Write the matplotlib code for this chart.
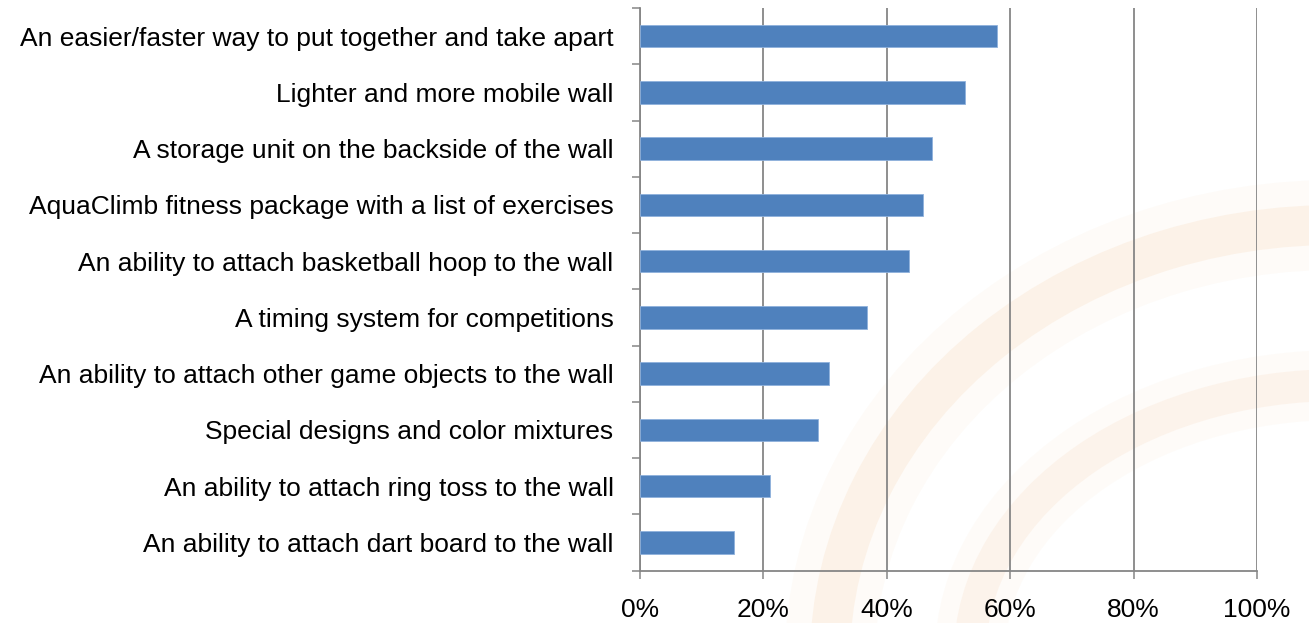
"""Horizontal bar chart: requested wall features (share of respondents)."""

import matplotlib

matplotlib.use("Agg")
import matplotlib.pyplot as plt
import numpy as np
from matplotlib.patches import Arc
from matplotlib.ticker import FixedLocator, PercentFormatter

plt.rcParams["font.family"] = ["Liberation Sans", "DejaVu Sans"]

# Categories listed top to bottom, as in the chart
features = [
    "An easier/faster way to put together and take apart",
    "Lighter and more mobile wall",
    "A storage unit on the backside of the wall",
    "AquaClimb fitness package with a list of exercises",
    "An ability to attach basketball hoop to the wall",
    "A timing system for competitions",
    "An ability to attach other game objects to the wall",
    "Special designs and color mixtures",
    "An ability to attach ring toss to the wall",
    "An ability to attach dart board to the wall",
]
shares = [0.579, 0.526, 0.474, 0.459, 0.436, 0.368, 0.307, 0.289, 0.210, 0.153]
x_ticks = [0.0, 0.2, 0.4, 0.6, 0.8, 1.0]

BAR_COLOR = "#4F81BD"
AXIS_GRAY = "#868686"
W, H = 1309, 623


def _watermark(fig):
    """Very faint orange arcs behind the chart, like the slide logo."""
    bg = fig.add_axes([0, 0, 1, 1], zorder=0)
    bg.set_xlim(0, W)
    bg.set_ylim(H, 0)
    bg.axis("off")
    bands = [
        ((1335, 660), 1010, 870, 40, 0.09),
        ((1335, 660), 1010, 870, 90, 0.04),
        ((1340, 655), 740, 540, 32, 0.08),
        ((1340, 655), 740, 540, 70, 0.035),
    ]
    for center, w, h, lw, alpha in bands:
        bg.add_patch(Arc(center, w, h, theta1=180, theta2=275,
                         color="#F0A050", lw=lw * 0.72, alpha=alpha))


fig = plt.figure(figsize=(W / 100, H / 100), dpi=100, facecolor="white")
_watermark(fig)

ax = fig.add_axes([640 / W, 1 - 570.5 / H, 617 / W, 562.5 / H], zorder=1)
ax.patch.set_alpha(0)

y = np.arange(len(features))
ax.barh(y, shares, height=0.4, color=BAR_COLOR, edgecolor="#8FB1DC",
        linewidth=0.6, zorder=3)

ax.set_ylim(len(features) - 0.5, -0.5)
ax.set_xlim(0, 1)

ax.set_yticks(y)
ax.set_yticklabels(features)
ax.yaxis.set_minor_locator(FixedLocator(np.arange(len(features) + 1) - 0.5))
ax.tick_params(axis="y", which="major", length=0, pad=19, labelsize=19)
ax.tick_params(axis="y", which="minor", length=6, width=1.1, color=AXIS_GRAY)

ax.set_xticks(x_ticks)
ax.xaxis.set_major_formatter(PercentFormatter(1.0, decimals=0))
ax.tick_params(axis="x", length=6, width=1.1, color=AXIS_GRAY, pad=14,
               labelsize=19)

ax.grid(axis="x", color=AXIS_GRAY, linewidth=1.3, zorder=0)
ax.set_axisbelow(True)

for side in ("top", "right"):
    ax.spines[side].set_visible(False)
for side in ("left", "bottom"):
    ax.spines[side].set_color(AXIS_GRAY)
    ax.spines[side].set_linewidth(1.3)

fig.savefig("out.png", dpi=100)
